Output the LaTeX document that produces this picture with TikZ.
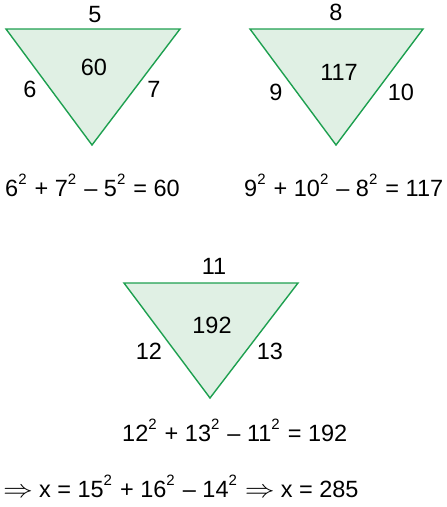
\documentclass[tikz,border=0pt]{standalone}
\usepackage{fontspec}
\setmainfont{Liberation Sans}
\definecolor{trifill}{RGB}{224,240,228}
\definecolor{tridraw}{RGB}{30,160,80}
\newcommand{\sqd}{\raisebox{12pt}{\fontsize{15}{15}\selectfont 2}\kern1.5pt}
\newcommand{\impl}{\scalebox{1.2}[1]{$\Rightarrow$}\kern6pt}
\begin{document}
\begin{tikzpicture}[x=1pt,y=-1pt,
  tri/.style={fill=trifill,draw=tridraw,line width=1.4pt,line join=miter},
  lbl/.style={inner sep=0pt,anchor=base,font=\fontsize{23.5}{27}\selectfont},
  eqn/.style={inner sep=0pt,anchor=base west,font=\fontsize{23.5}{27}\selectfont}]
\useasboundingbox (0,0) rectangle (447,507);
% triangle 1
\coordinate (a1) at (6,29); \coordinate (b1) at (180,29); \coordinate (c1) at (92,145);
\draw[tri] (a1) -- (b1) -- (c1) -- cycle;
\node[lbl] (t1) at (95,22) {5};
\node[lbl] (m1) at (94,75) {60};
\node[lbl] (l1) at (30,97) {6};
\node[lbl] (r1) at (154,97) {7};
\node[eqn] (e1) at (5,196) {6\sqd{} + 7\sqd{} – 5\sqd{} = 60};
% triangle 2
\coordinate (a2) at (250,29); \coordinate (b2) at (423,29); \coordinate (c2) at (336,145);
\draw[tri] (a2) -- (b2) -- (c2) -- cycle;
\node[lbl] (t2) at (336,20) {8};
\node[lbl] (m2) at (339,80) {117};
\node[lbl] (l2) at (276,100) {9};
\node[lbl] (r2) at (401,100) {10};
\node[eqn] (e2) at (244,196) {9\sqd{} + 10\sqd{} – 8\sqd{} = 117};
% triangle 3
\coordinate (a3) at (124,283); \coordinate (b3) at (298,283); \coordinate (c3) at (210,398);
\draw[tri] (a3) -- (b3) -- (c3) -- cycle;
\node[lbl] (t3) at (214,274) {11};
\node[lbl] (m3) at (212,333) {192};
\node[lbl] (l3) at (149,359) {12};
\node[lbl] (r3) at (270,359) {13};
\node[eqn] (e3) at (122,441) {12\sqd{} + 13\sqd{} – 11\sqd{} = 192};
% conclusion
\node[eqn] (e4) at (3,497) {\impl x = 15\sqd{} + 16\sqd{} – 14\sqd{} \impl x = 285};
\end{tikzpicture}
\end{document}
